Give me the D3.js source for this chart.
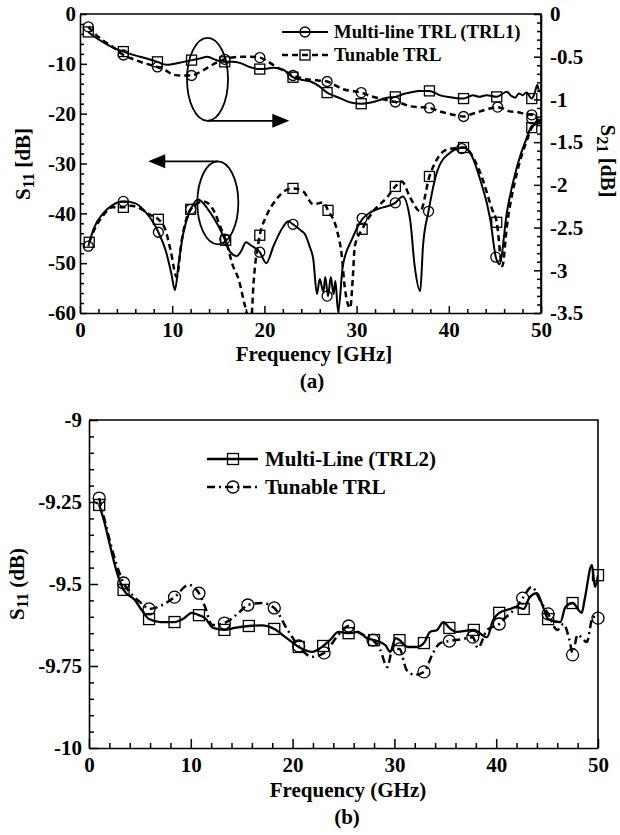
<!DOCTYPE html>
<html>
<head>
<meta charset="utf-8">
<script src="https://cdn.jsdelivr.net/npm/d3@7"></script>
<style>
  body { margin: 0; background: #fff; }
  svg text { font-family: "Liberation Serif", "Times New Roman", serif; font-weight: bold; fill: #000; }
</style>
</head>
<body>
<div id="chart"></div>
<script>
// ---------- panel (a): [frequency GHz, dB] ----------
const s11MultiA = [[0.9,-46.6],[1.5,-43],[2.5,-40],[3.5,-38.4],[4.7,-37.6],[6,-38],[7,-39.5],[8,-42],[8.5,-43.8],[9.3,-47.5],[9.9,-52],[10.3,-55.4],[10.7,-50],[11.2,-44],[12,-39.2],[12.8,-37.2],[14,-39.5],[15,-42.5],[15.7,-45.2],[16.3,-47.8],[17,-48.6],[17.5,-47.5],[18,-45.8],[18.6,-46.5],[19.5,-47.8],[20.2,-50],[21,-46.5],[22,-42.8],[22.6,-41.6],[23.1,-42.2],[24,-43.5],[24.4,-44.2],[24.9,-46.6],[25.3,-49.2],[25.7,-56.2],[26,-53.2],[26.4,-55.8],[26.6,-52.8],[26.9,-56.6],[27.2,-52.8],[27.5,-56.2],[27.7,-53.6],[28,-59.8],[28.5,-50.6],[29.5,-45.2],[30.6,-41.2],[31.5,-39.8],[32.5,-39],[34.2,-37.9],[35,-36.6],[35.8,-41.2],[36.3,-50.6],[36.9,-55.6],[37.2,-46.6],[37.8,-39.6],[38.7,-31.8],[39.9,-28.2],[41.6,-26.8],[42.5,-28.5],[43.4,-33.2],[44.5,-41.2],[45.1,-48.8],[45.5,-50.2],[46.3,-39.8],[47.4,-30.6],[48.5,-24.6],[49,-22.5],[50,-21.8]];
const s11TunableA = [[1,-45.8],[1.5,-43.5],[2.5,-40.5],[3.5,-38.8],[4.7,-38.8],[5.5,-38.5],[6.5,-39],[7.5,-40.2],[8.5,-41.2],[9.3,-43.5],[9.8,-47.2],[10.5,-52.8],[11,-45.8],[12,-39.2],[13.4,-37.6],[14.6,-39.8],[15.2,-42.6],[15.8,-45.4],[16.6,-50.6],[17.2,-53.2],[17.9,-58.6],[18.2,-60.5],[18.6,-60.5],[18.8,-54.6],[19.5,-44.4],[20.2,-40.6],[21.3,-37.2],[22.2,-35.5],[23.1,-35],[24.2,-35.6],[25.3,-38.2],[26.4,-37.8],[26.9,-39.4],[27.9,-43.6],[28.4,-48.6],[28.7,-54.6],[29.3,-59],[29.6,-52.6],[29.8,-46.6],[30.6,-43.2],[31.8,-39.6],[33.3,-36.8],[34.2,-34.6],[34.9,-33.6],[35.8,-36.8],[36.9,-39.6],[37.9,-32.6],[38.7,-29.2],[39.8,-27.2],[41.6,-26.8],[43.4,-31.8],[44.7,-39.2],[45.2,-41.8],[45.8,-50.6],[46.3,-42.6],[47.4,-31.8],[48.5,-25.2],[49,-22.8],[50,-21.2]];
const s21MultiA = [[0.9,-0.21],[1.5,-0.26],[2.5,-0.33],[3.5,-0.39],[4.7,-0.44],[5.5,-0.47],[6.5,-0.5],[7.5,-0.53],[8.4,-0.56],[9.4,-0.595],[10.8,-0.57],[12.1,-0.54],[13,-0.52],[13.8,-0.5],[14.8,-0.54],[15.7,-0.56],[16.5,-0.56],[17.4,-0.575],[18.4,-0.62],[19.5,-0.645],[20.2,-0.64],[21,-0.63],[22,-0.65],[23.1,-0.74],[24,-0.77],[25,-0.79],[26,-0.85],[26.8,-0.92],[27.6,-0.96],[28.5,-1],[29.5,-1.04],[30.5,-1.05],[31.8,-1.03],[33.3,-0.98],[34.2,-0.97],[35,-0.94],[35.8,-0.92],[36.8,-0.9],[37.9,-0.9],[39,-0.95],[40.5,-0.98],[41.6,-0.99],[42.6,-0.95],[43.3,-0.97],[44.1,-0.95],[45.2,-0.97],[46.3,-0.91],[46.8,-0.96],[47.2,-0.98],[47.6,-0.93],[48,-0.95],[48.4,-0.92],[49,-0.99],[49.3,-0.93],[49.6,-0.83],[49.8,-0.9],[50,-0.91]];
const s21TunableA = [[0.9,-0.15],[1.5,-0.22],[2.5,-0.31],[3.5,-0.38],[4.7,-0.48],[5.8,-0.53],[6.8,-0.57],[8.4,-0.62],[9.3,-0.66],[10.1,-0.71],[11,-0.72],[12.1,-0.72],[13,-0.68],[13.8,-0.63],[14.8,-0.57],[15.7,-0.53],[16.5,-0.51],[17.4,-0.5],[18.5,-0.5],[19.5,-0.51],[20.3,-0.55],[21,-0.6],[22,-0.66],[23.1,-0.72],[24,-0.75],[25,-0.77],[26,-0.78],[26.8,-0.79],[27.6,-0.83],[28.5,-0.88],[29.5,-0.9],[30.5,-0.92],[31.5,-0.96],[33,-1],[34.2,-1.03],[35,-1.05],[35.8,-1.08],[36.8,-1.09],[37.9,-1.1],[39,-1.14],[40.5,-1.18],[41.6,-1.2],[42.5,-1.17],[43.4,-1.14],[44.3,-1.11],[45.3,-1.09],[46,-1.11],[46.6,-1.14],[47.5,-1.15],[48.3,-1.17],[49,-1.18],[49.5,-1.22],[50,-1.27]];

// symbols (a)
const s11MultiAMarks = [[0.9,-46.6],[4.7,-37.6],[8.5,-43.8],[12,-39.2],[15.7,-45.2],[19.5,-47.8],[23.1,-42.2],[26.8,-56.6],[30.6,-41],[34.2,-37.9],[37.8,-39.6],[41.4,-27],[45.1,-48.8],[49,-21]];
const s11TunableAMarks = [[1,-45.8],[4.7,-38.8],[8.5,-41.2],[12,-39.2],[15.8,-45.4],[19.5,-44.4],[23.1,-35],[26.9,-39.4],[30.6,-43.2],[34.2,-34.6],[37.9,-32.6],[41.6,-26.8],[45.2,-41.8],[49,-22.8]];
const s21MultiAMarks = [[0.9,-0.21],[4.7,-0.44],[8.4,-0.56],[12.1,-0.54],[15.7,-0.56],[19.5,-0.645],[23.1,-0.74],[26.8,-0.92],[30.5,-1.05],[34.2,-0.97],[37.9,-0.9],[41.6,-0.99],[45.2,-0.97],[49,-0.99]];
const s21TunableAMarks = [[0.9,-0.15],[4.7,-0.48],[8.4,-0.62],[12.1,-0.72],[15.7,-0.53],[19.5,-0.51],[23.1,-0.72],[26.8,-0.79],[30.5,-0.92],[34.2,-1.03],[37.9,-1.1],[41.6,-1.2],[45.3,-1.09],[49,-1.18]];

// ---------- panel (b) ----------
const s11MultiB = [[1,-9.259],[1.5,-9.31],[2.1,-9.387],[2.7,-9.46],[3.4,-9.518],[4.5,-9.549],[5.3,-9.585],[5.9,-9.607],[7,-9.616],[8.4,-9.616],[9.3,-9.605],[10.1,-9.588],[10.8,-9.595],[11.4,-9.604],[12.2,-9.634],[13.3,-9.64],[14.3,-9.634],[15.7,-9.628],[17,-9.626],[18.2,-9.637],[19.3,-9.662],[20.6,-9.692],[21.9,-9.707],[23,-9.689],[23.7,-9.67],[24.5,-9.646],[25.5,-9.65],[26.4,-9.646],[27.3,-9.665],[28,-9.671],[29.1,-9.686],[29.6,-9.707],[30.1,-9.665],[30.5,-9.671],[31.3,-9.692],[32.2,-9.692],[32.9,-9.68],[33.5,-9.646],[34.2,-9.64],[34.8,-9.616],[35.4,-9.634],[36.1,-9.646],[37.8,-9.64],[39.1,-9.662],[39.7,-9.61],[40.3,-9.588],[41.4,-9.576],[42,-9.57],[42.7,-9.576],[43.3,-9.54],[44,-9.528],[44.6,-9.57],[45.1,-9.607],[46.3,-9.616],[46.8,-9.57],[47.5,-9.558],[48.4,-9.588],[48.7,-9.545],[49.4,-9.442],[49.7,-9.509],[50,-9.473]];
const s11TunableB = [[1,-9.238],[1.5,-9.3],[2.1,-9.375],[2.7,-9.44],[3.4,-9.497],[4.3,-9.535],[5.2,-9.56],[5.9,-9.576],[7.2,-9.564],[8.4,-9.54],[9.8,-9.503],[10.8,-9.528],[11.4,-9.57],[12.1,-9.625],[13.3,-9.619],[14.7,-9.588],[15.6,-9.564],[17,-9.558],[18.2,-9.573],[19.5,-9.64],[20.6,-9.689],[21.9,-9.722],[23.1,-9.71],[24.5,-9.655],[25.5,-9.628],[26.6,-9.65],[27.9,-9.671],[28.6,-9.7],[29.3,-9.753],[29.8,-9.701],[30.5,-9.698],[31.2,-9.762],[32,-9.777],[32.9,-9.768],[33.8,-9.71],[34.5,-9.68],[35.4,-9.674],[36.7,-9.668],[37.7,-9.662],[38.2,-9.695],[39.1,-9.64],[40.3,-9.622],[41,-9.6],[42,-9.57],[42.6,-9.543],[43.5,-9.509],[44.3,-9.549],[45.1,-9.591],[46,-9.64],[46.6,-9.622],[47.2,-9.671],[47.5,-9.71],[48,-9.655],[48.9,-9.677],[49.5,-9.6],[50,-9.604]];
const s11MultiBMarks = [[1,-9.259],[3.4,-9.518],[5.9,-9.607],[8.4,-9.616],[10.8,-9.595],[13.3,-9.64],[15.7,-9.628],[18.2,-9.637],[20.6,-9.692],[23,-9.689],[25.5,-9.65],[28,-9.671],[30.5,-9.671],[32.9,-9.68],[35.4,-9.634],[37.8,-9.64],[40.3,-9.588],[42.7,-9.576],[45.1,-9.607],[47.5,-9.558],[50,-9.473]];
const s11TunableBMarks = [[1,-9.238],[3.4,-9.497],[5.9,-9.576],[8.4,-9.54],[10.8,-9.528],[13.3,-9.619],[15.6,-9.564],[18.2,-9.573],[20.6,-9.689],[23.1,-9.71],[25.5,-9.628],[27.9,-9.671],[30.5,-9.698],[32.9,-9.768],[35.4,-9.674],[37.7,-9.662],[40.3,-9.622],[42.6,-9.543],[45.1,-9.591],[47.5,-9.716],[50,-9.604]];

// ticks and labels
const freqTicks = [0, 10, 20, 30, 40, 50];
const s11TicksA = [0, -10, -20, -30, -40, -50, -60];
const s21TicksA = [0, -0.5, -1, -1.5, -2, -2.5, -3, -3.5];
const s11TicksB = [-9, -9.25, -9.5, -9.75, -10];
const legendA = ["Multi-line TRL (TRL1)", "Tunable TRL"];
const legendB = ["Multi-Line (TRL2)", "Tunable TRL"];

const svg = d3.select("#chart").append("svg")
  .attr("width", 620)
  .attr("height", 835);

// scales
const xA = d3.scaleLinear().domain([0, 50]).range([80, 541]);
const yA = d3.scaleLinear().domain([-60, 0]).range([313, 14]);
const yA2 = d3.scaleLinear().domain([-3.5, 0]).range([313, 14]);
const xB = d3.scaleLinear().domain([0, 50]).range([89, 598]);
const yB = d3.scaleLinear().domain([-10, -9]).range([748, 420]);

function styleAxis(g, size) {
  g.attr("font-family", null).attr("font-size", null);
  g.selectAll("text").attr("font-size", size).attr("fill", "#000");
  g.selectAll("line").attr("stroke", "#000").attr("stroke-width", 1.5);
  g.selectAll("path").attr("stroke", "#000").attr("stroke-width", 1.6);
}

// draws a major + minor axis pair, ticks pointing into the plot
function drawAxis(axisFn, scale, major, minor, pos, lenMaj, lenMin, pad, size) {
  let gMin = svg.append("g").attr("transform", pos)
    .call(axisFn(scale).tickValues(minor).tickFormat("").tickSizeInner(-lenMin).tickSizeOuter(0));
  styleAxis(gMin, size);
  gMin.select("path").remove();
  let gMaj = svg.append("g").attr("transform", pos)
    .call(axisFn(scale).tickValues(major).tickFormat(d => String(d))
      .tickSizeInner(-lenMaj).tickSizeOuter(0).tickPadding(pad));
  styleAxis(gMaj, size);
  return gMaj;
}

function frame(x, y) {
  svg.append("path")
    .attr("d", `M${x.range()[0]},${y.range()[1]}H${x.range()[1]}V${y.range()[0]}`)
    .attr("fill", "none").attr("stroke", "#000").attr("stroke-width", 1.6);
}

function drawLine(g, data, x, y, dash, w) {
  g.append("path")
    .datum(data)
    .attr("fill", "none")
    .attr("stroke", "#000")
    .attr("stroke-width", w)
    .attr("stroke-dasharray", dash)
    .attr("d", d3.line().x(d => x(d[0])).y(d => y(d[1])).curve(d3.curveMonotoneX));
}

function drawMarks(g, data, x, y, shape, r) {
  data.forEach(d => {
    if (shape === "circle") {
      g.append("circle").attr("cx", x(d[0])).attr("cy", y(d[1])).attr("r", r)
        .attr("fill", "none").attr("stroke", "#000").attr("stroke-width", 1.3);
    } else {
      g.append("rect").attr("x", x(d[0]) - r).attr("y", y(d[1]) - r)
        .attr("width", 2 * r).attr("height", 2 * r)
        .attr("fill", "none").attr("stroke", "#000").attr("stroke-width", 1.3);
    }
  });
}

function sLabel(x, y, rot, sub, unit, size) {
  let t = svg.append("text")
    .attr("transform", `translate(${x},${y}) rotate(${rot})`)
    .attr("text-anchor", "middle")
    .attr("font-size", size);
  t.append("tspan").text("S");
  t.append("tspan").attr("font-size", size * 0.78).attr("dy", 4).text(sub);
  t.append("tspan").attr("dy", -4).text(" " + unit);
}

// clip paths
let defs = svg.append("defs");
defs.append("clipPath").attr("id", "clipA").append("rect")
  .attr("x", 80).attr("y", 14).attr("width", 461).attr("height", 299);
defs.append("clipPath").attr("id", "clipB").append("rect")
  .attr("x", 89).attr("y", 420).attr("width", 509).attr("height", 328);

// ================= panel (a) =================
let plotA = svg.append("g").attr("clip-path", "url(#clipA)");
drawLine(plotA, s11MultiA, xA, yA, null, 2);
drawLine(plotA, s11TunableA, xA, yA, "6,4", 2.5);
drawLine(plotA, s21MultiA, xA, yA2, null, 2);
drawLine(plotA, s21TunableA, xA, yA2, "6,4", 2.5);
let marksA = svg.append("g");
drawMarks(marksA, s11MultiAMarks, xA, yA, "circle", 5);
drawMarks(marksA, s11TunableAMarks, xA, yA, "square", 5);
drawMarks(marksA, s21MultiAMarks, xA, yA2, "square", 5);
drawMarks(marksA, s21TunableAMarks, xA, yA2, "circle", 5);

frame(xA, yA);
drawAxis(d3.axisBottom, xA, freqTicks, d3.range(2, 50, 2).filter(v => v % 10), "translate(0,313)", 7, 4, 9, 21);
drawAxis(d3.axisLeft, yA, s11TicksA, d3.range(-58, 0, 2).filter(v => v % 10), "translate(80,0)", 7, 4, 4, 21);
drawAxis(d3.axisRight, yA2, s21TicksA, d3.range(1, 35).map(v => -v / 10).filter(v => Math.abs(v * 2 - Math.round(v * 2)) > 1e-6), "translate(541,0)", 7, 4, 9, 21);

// annotations: ellipses with arrows
function ellipseArrow(cx, cy, rxPx, ryPx, fromTop, tipX) {
  let ex = xA(cx), ey = yA(cy);
  svg.append("ellipse").attr("cx", ex).attr("cy", ey).attr("rx", rxPx).attr("ry", ryPx)
    .attr("fill", "none").attr("stroke", "#000").attr("stroke-width", 1.8);
  let ay = fromTop ? ey - ryPx : ey + ryPx;
  let tx = xA(tipX);
  let dir = tx > ex ? 1 : -1;
  svg.append("line").attr("x1", ex).attr("y1", ay).attr("x2", tx - dir * 10).attr("y2", ay)
    .attr("stroke", "#000").attr("stroke-width", 1.8);
  svg.append("path")
    .attr("d", `M${tx},${ay}L${tx - dir * 17},${ay - 7}L${tx - dir * 17},${ay + 7}Z`)
    .attr("fill", "#000");
}
ellipseArrow(13.83, -13.1, 20.5, 41.5, false, 22.7);
ellipseArrow(14.95, -37.9, 20.5, 41.5, true, 7.4);

// legend (a)
[[legendA[0], null, "circle"], [legendA[1], "6,4", "square"]].forEach((e, i) => {
  let ly = 32 + i * 23;
  svg.append("line").attr("x1", 282).attr("x2", 328).attr("y1", ly).attr("y2", ly)
    .attr("stroke", "#000").attr("stroke-width", i ? 2.5 : 2).attr("stroke-dasharray", e[1]);
  if (e[2] === "circle") {
    svg.append("circle").attr("cx", 305).attr("cy", ly).attr("r", 5)
      .attr("fill", "none").attr("stroke", "#000").attr("stroke-width", 1.3);
  } else {
    svg.append("rect").attr("x", 300).attr("y", ly - 5).attr("width", 10).attr("height", 10)
      .attr("fill", "none").attr("stroke", "#000").attr("stroke-width", 1.3);
  }
  svg.append("text").attr("x", 334).attr("y", ly + 6).attr("font-size", 18.7).text(e[0]);
});

sLabel(30, 164, -90, "11", "[dB]", 21);
sLabel(601, 161, 90, "21", "[dB]", 21);
svg.append("text").attr("x", 314).attr("y", 361).attr("text-anchor", "middle")
  .attr("font-size", 21).text("Frequency [GHz]");
svg.append("text").attr("x", 312).attr("y", 388).attr("text-anchor", "middle")
  .attr("font-size", 21).text("(a)");

// ================= panel (b) =================
let plotB = svg.append("g").attr("clip-path", "url(#clipB)");
drawLine(plotB, s11MultiB, xB, yB, null, 2.3);
drawLine(plotB, s11TunableB, xB, yB, "8,4,2,4", 2.5);
let marksB = svg.append("g");
drawMarks(marksB, s11MultiBMarks, xB, yB, "square", 5.5);
drawMarks(marksB, s11TunableBMarks, xB, yB, "circle", 6);

frame(xB, yB);
drawAxis(d3.axisBottom, xB, freqTicks, d3.range(2, 50, 2).filter(v => v % 10), "translate(0,748)", 9, 5, 9, 21);
drawAxis(d3.axisLeft, yB, s11TicksB, d3.range(1, 20).map(v => -9 - v * 0.05).filter(v => Math.abs(v * 4 - Math.round(v * 4)) > 1e-6), "translate(89,0)", 9, 5, 7, 21);

// legend (b)
[[legendB[0], null, "square"], [legendB[1], "8,4,2,4", "circle"]].forEach((e, i) => {
  let ly = 459 + i * 28;
  svg.append("line").attr("x1", 207).attr("x2", 258).attr("y1", ly).attr("y2", ly)
    .attr("stroke", "#000").attr("stroke-width", 2.4).attr("stroke-dasharray", e[1]);
  if (e[2] === "circle") {
    svg.append("circle").attr("cx", 233).attr("cy", ly).attr("r", 6)
      .attr("fill", "none").attr("stroke", "#000").attr("stroke-width", 1.3);
  } else {
    svg.append("rect").attr("x", 227.5).attr("y", ly - 5.5).attr("width", 11).attr("height", 11)
      .attr("fill", "none").attr("stroke", "#000").attr("stroke-width", 1.3);
  }
  svg.append("text").attr("x", 265).attr("y", ly + 7).attr("font-size", 21).text(e[0]);
});

sLabel(24, 584, -90, "11", "(dB)", 21);
svg.append("text").attr("x", 348).attr("y", 797).attr("text-anchor", "middle")
  .attr("font-size", 21).text("Frequency (GHz)");
svg.append("text").attr("x", 347).attr("y", 824).attr("text-anchor", "middle")
  .attr("font-size", 21).text("(b)");
</script>
</body>
</html>
